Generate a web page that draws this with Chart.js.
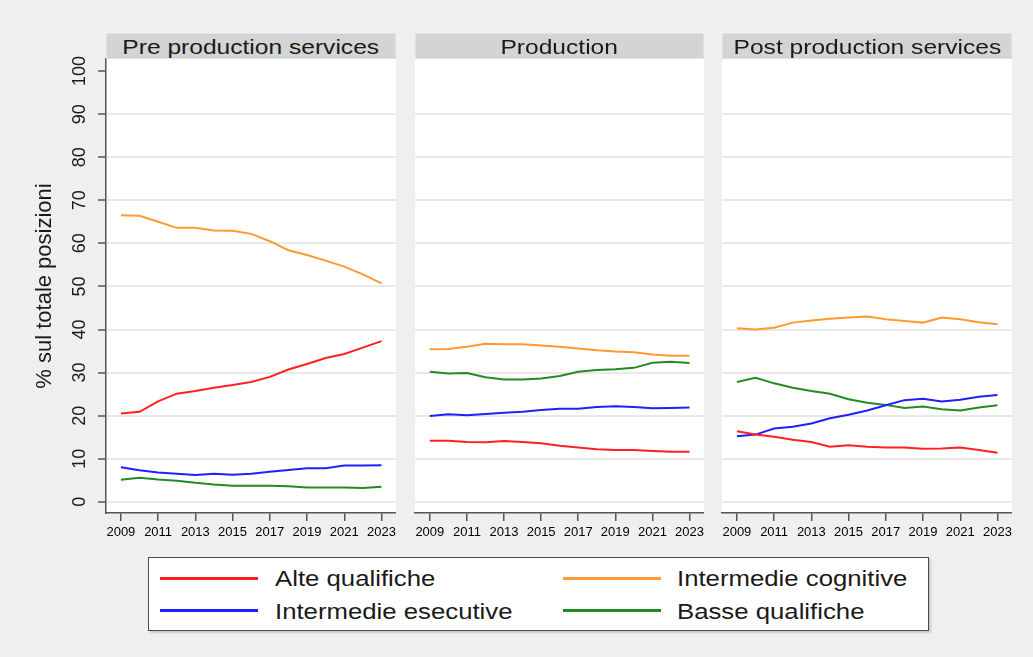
<!DOCTYPE html>
<html>
<head>
<meta charset="utf-8">
<script src="https://cdn.jsdelivr.net/npm/chart.js@4.4.0/dist/chart.umd.min.js"></script>
<style>
  body { margin: 0; width: 1033px; height: 657px; overflow: hidden; position: relative;
         background: #efefef; font-family: "Liberation Sans", Arial, sans-serif; color: #1a1a1a; }
  canvas { position: absolute; }
  .hdr { position: absolute; top: 33px; height: 26px; background: #d4d4d4; z-index: 2;
         box-shadow: inset 0 0 0 1px #dbe3e8; font-size: 21px; line-height: 27px;
         text-align: center; white-space: nowrap; overflow: hidden; }
  .hdr span { display: inline-block; transform: scaleX(1.17); }
  #legend { position: absolute; left: 148px; top: 557px; width: 781px; height: 74px; box-sizing: border-box;
            background: #fff; border: 1.5px solid #4a4a4a; box-shadow: 2px 2px 2px #c9c9c9; }
  .sw { position: absolute; height: 3px; width: 98px; }
  .lab { position: absolute; font-size: 22px; line-height: 26px; white-space: nowrap;
         transform-origin: left center; transform: scaleX(1.17); }
</style>
</head>
<body>

<div class="hdr" style="left:106px;width:290px"><span>Pre production services</span></div>
<div class="hdr" style="left:415px;width:289px"><span>Production</span></div>
<div class="hdr" style="left:722px;width:290px"><span>Post production services</span></div>

<canvas id="c1" width="396" height="516" style="left:0;top:33px"></canvas>
<canvas id="c2" width="299" height="516" style="left:405px;top:33px"></canvas>
<canvas id="c3" width="300" height="516" style="left:712px;top:33px"></canvas>

<div id="legend"></div>
<div class="sw" style="left:160px;top:577px;background:#ff2020"></div>
<div class="lab" style="left:275px;top:566px">Alte qualifiche</div>
<div class="sw" style="left:563px;top:577px;background:#ff9a30"></div>
<div class="lab" style="left:677px;top:566px">Intermedie cognitive</div>
<div class="sw" style="left:160px;top:609px;background:#2020ff"></div>
<div class="lab" style="left:275px;top:599px">Intermedie esecutive</div>
<div class="sw" style="left:563px;top:609px;background:#228b22"></div>
<div class="lab" style="left:677px;top:599px">Basse qualifiche</div>

<script>
// anni e tick
const years = [2009, 2010, 2011, 2012, 2013, 2014, 2015, 2016, 2017, 2018, 2019, 2020, 2021, 2022, 2023]
const yearTicks = [2009, 2011, 2013, 2015, 2017, 2019, 2021, 2023]
const yTicks = [0, 10, 20, 30, 40, 50, 60, 70, 80, 90, 100]

// Pre production services
const preAlte = [20.5, 20.9, 23.3, 25.1, 25.7, 26.5, 27.1, 27.8, 29.0, 30.7, 32.0, 33.4, 34.3, 35.8, 37.3]
const preCognitive = [66.5, 66.4, 65.0, 63.6, 63.6, 63.0, 62.9, 62.2, 60.5, 58.4, 57.3, 56.0, 54.6, 52.8, 50.7]
const preEsecutive = [8.0, 7.3, 6.8, 6.5, 6.2, 6.5, 6.3, 6.5, 7.0, 7.4, 7.8, 7.8, 8.4, 8.4, 8.5]
const preBasse = [5.1, 5.6, 5.2, 4.9, 4.4, 4.0, 3.7, 3.7, 3.7, 3.6, 3.3, 3.3, 3.3, 3.2, 3.5]

// Production
const prodAlte = [14.2, 14.2, 13.9, 13.8, 14.1, 13.9, 13.6, 13.0, 12.6, 12.2, 12.0, 12.0, 11.8, 11.6, 11.6]
const prodCognitive = [35.4, 35.5, 36.0, 36.7, 36.6, 36.6, 36.3, 36.0, 35.6, 35.2, 34.9, 34.7, 34.2, 33.9, 33.9]
const prodEsecutive = [19.9, 20.3, 20.1, 20.4, 20.7, 20.9, 21.3, 21.6, 21.6, 22.0, 22.2, 22.0, 21.7, 21.8, 21.9]
const prodBasse = [30.2, 29.8, 29.9, 28.9, 28.4, 28.4, 28.6, 29.2, 30.2, 30.6, 30.8, 31.1, 32.3, 32.5, 32.2]

// Post production services
const postAlte = [16.4, 15.6, 15.1, 14.4, 13.9, 12.8, 13.1, 12.8, 12.6, 12.6, 12.3, 12.4, 12.6, 12.0, 11.4]
const postCognitive = [40.3, 40.0, 40.4, 41.6, 42.1, 42.5, 42.8, 43.0, 42.4, 42.0, 41.6, 42.8, 42.4, 41.7, 41.2]
const postEsecutive = [15.2, 15.6, 17.0, 17.4, 18.2, 19.4, 20.2, 21.2, 22.4, 23.6, 23.9, 23.3, 23.7, 24.4, 24.8]
const postBasse = [27.8, 28.8, 27.5, 26.5, 25.7, 25.1, 23.8, 23.0, 22.5, 21.8, 22.1, 21.5, 21.2, 21.9, 22.4]

const colors = ['#ff2020', '#ff9a30', '#2020ff', '#228b22']
const font = '"Liberation Sans", Arial, sans-serif'
const axisColor = '#555'

// sfondo bianco dell'area del grafico
const plotBg = {
    id: 'plotBg',
    beforeDraw(chart) {
        const { ctx, chartArea: a } = chart
        ctx.save()
        ctx.fillStyle = '#fff'
        ctx.fillRect(a.left, a.top, a.right - a.left, a.bottom - a.top)
        ctx.restore()
    }
}

function makePanel(id, series, first) {
    new Chart(document.getElementById(id), {
        type: 'line',
        data: {
            datasets: series.map((s, i) => ({
                data: years.map((y, j) => ({ x: y, y: s[j] })),
                borderColor: colors[i],
                borderWidth: 2,
                pointRadius: 0,
                tension: 0
            }))
        },
        options: {
            responsive: false,
            animation: false,
            layout: { padding: { top: 26, left: 0, right: 0, bottom: 0 }, autoPadding: false },
            plugins: { legend: { display: false }, tooltip: { enabled: false } },
            scales: {
                x: {
                    type: 'linear',
                    min: 2008.2,
                    max: 2023.78,
                    afterBuildTicks: s => { s.ticks = yearTicks.map(v => ({ value: v })) },
                    afterFit: s => { s.height = 36; s.paddingLeft = 0; s.paddingRight = 0 },
                    grid: { drawOnChartArea: false, tickLength: 8, color: axisColor, lineWidth: 1.5 },
                    border: { color: axisColor, width: 1.5 },
                    ticks: {
                        font: { family: font, size: 13 }, color: '#000', padding: 4,
                        maxRotation: 0, autoSkip: false, callback: v => String(v)
                    }
                },
                y: {
                    min: -2.6,
                    max: 102.8,
                    afterBuildTicks: s => { s.ticks = yTicks.map(v => ({ value: v })) },
                    afterFit: s => { s.width = first ? 106 : 10; s.paddingTop = 0; s.paddingBottom = 0 },
                    grid: {
                        color: c => (c.tick && c.tick.value === 100) ? 'rgba(0,0,0,0)' : '#e9e9e9',
                        lineWidth: 2,
                        drawTicks: first,
                        tickLength: 8,
                        tickColor: axisColor,
                        tickWidth: 1.5
                    },
                    border: { display: first, color: axisColor, width: 1.5 },
                    ticks: {
                        display: first, font: { family: font, size: 18 }, color: '#1a1a1a',
                        padding: 3, minRotation: 90, maxRotation: 90, crossAlign: 'center', autoSkip: false
                    },
                    title: {
                        display: first, text: '% sul totale posizioni', color: '#1a1a1a',
                        font: { family: font, size: 22 }, padding: { top: 32, bottom: 0 }
                    }
                }
            }
        },
        plugins: [plotBg]
    })
}

makePanel('c1', [preAlte, preCognitive, preEsecutive, preBasse], true)
makePanel('c2', [prodAlte, prodCognitive, prodEsecutive, prodBasse], false)
makePanel('c3', [postAlte, postCognitive, postEsecutive, postBasse], false)
</script>
</body>
</html>
